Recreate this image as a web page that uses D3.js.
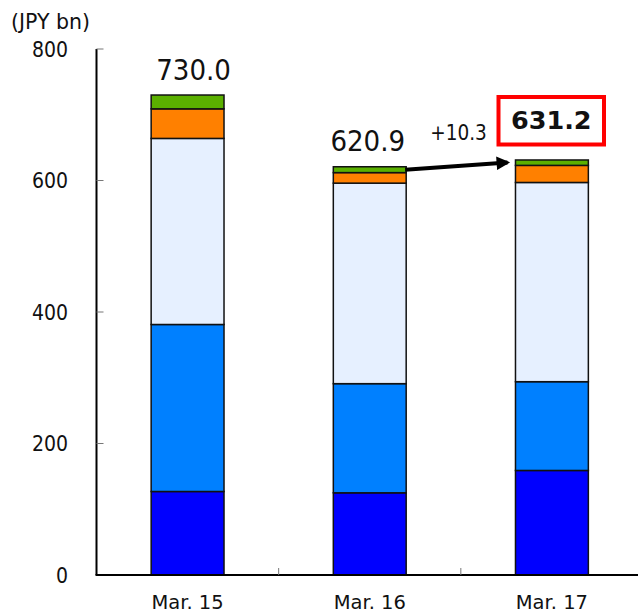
<!DOCTYPE html>
<html>
<head>
<meta charset="utf-8">
<script src="https://cdn.jsdelivr.net/npm/d3@7"></script>
<style>
  html, body { margin: 0; padding: 0; background: #fff; }
  svg { display: block; font-family: "DejaVu Sans Condensed", "DejaVu Sans", sans-serif; }
  .wide { font-family: "DejaVu Sans", sans-serif; }
  .bold { font-family: "DejaVu Sans", sans-serif; font-weight: bold; }
</style>
</head>
<body>
<svg id="chart" width="638" height="614"></svg>
<script>
// Balance by period (JPY bn), stacked bottom to top
const categories = ["Mar. 15", "Mar. 16", "Mar. 17"];
const seriesKeys = ["s1", "s2", "s3", "s4", "s5"];
const s1 = [127, 125, 159];
const s2 = [254, 166, 135];
const s3 = [283, 305, 303];
const s4 = [45, 16, 26];
const s5 = [21, 8.9, 8.2];
const totals = [730.0, 620.9, 631.2];
const changeLabel = "+10.3";
const yTicks = [0, 200, 400, 600, 800];
const colors = ["#0000ff", "#0080ff", "#e6f0ff", "#ff8000", "#5bb000"];

const rows = categories.map((c, i) => ({
  cat: c, s1: s1[i], s2: s2[i], s3: s3[i], s4: s4[i], s5: s5[i]
}));

const svg = d3.select("#chart");
const plotLeft = 96.5, plotRight = 638, plotTop = 49, plotBottom = 575;

const x = d3.scaleBand().domain(categories).range([plotLeft, plotRight + 5]).padding(0);
const y = d3.scaleLinear().domain([0, 800]).range([plotBottom, plotTop]);
const barW = x.bandwidth() * 0.4;

const stack = d3.stack().keys(seriesKeys)(rows);

// stacked bars
svg.append("g").selectAll("g")
  .data(stack)
  .join("g")
  .attr("fill", (d, i) => colors[i])
  .selectAll("rect")
  .data(d => d)
  .join("rect")
  .attr("x", d => x(d.data.cat) + x.bandwidth() / 2 - barW / 2)
  .attr("y", d => y(d[1]))
  .attr("width", barW)
  .attr("height", d => y(d[0]) - y(d[1]))
  .attr("stroke", "#111")
  .attr("stroke-width", 1.5);

// y axis
const yAxis = svg.append("g");
yAxis.append("line")
  .attr("x1", plotLeft).attr("x2", plotLeft).attr("y1", y(800)).attr("y2", plotBottom)
  .attr("stroke", "#000").attr("stroke-width", 2);
yAxis.selectAll("line.tick").data(yTicks).join("line")
  .attr("class", "tick")
  .attr("x1", plotLeft).attr("x2", plotLeft + 7)
  .attr("y1", d => y(d)).attr("y2", d => y(d))
  .attr("stroke", "#777").attr("stroke-width", 1);
yAxis.selectAll("text").data(yTicks).join("text")
  .attr("x", 68).attr("y", d => y(d)).attr("dy", "0.36em")
  .attr("text-anchor", "end").attr("font-size", 21).attr("fill", "#111")
  .text(d => d);

svg.append("text").attr("class", "wide").attr("x", 11).attr("y", 29)
  .attr("font-size", 20.5).attr("fill", "#111").text("(JPY bn)");

// x axis
svg.append("line")
  .attr("x1", plotLeft - 1).attr("x2", plotRight).attr("y1", plotBottom).attr("y2", plotBottom)
  .attr("stroke", "#000").attr("stroke-width", 2);
svg.selectAll("line.xtick").data(categories.slice(1)).join("line")
  .attr("class", "xtick")
  .attr("x1", d => x(d)).attr("x2", d => x(d))
  .attr("y1", plotBottom).attr("y2", plotBottom - 7)
  .attr("stroke", "#777").attr("stroke-width", 1);
svg.selectAll("text.xlab").data(categories).join("text")
  .attr("class", "xlab wide")
  .attr("x", d => x(d) + x.bandwidth() / 2).attr("y", 609)
  .attr("text-anchor", "middle").attr("font-size", 19.5).attr("fill", "#111")
  .text(d => d);

// total labels
const cx = i => x(categories[i]) + x.bandwidth() / 2;
const totalDx = [6, -2];
[0, 1].forEach(i => {
  svg.append("text")
    .attr("x", cx(i) + totalDx[i]).attr("y", y(totals[i]) - 15.5)
    .attr("text-anchor", "middle").attr("font-size", 29).attr("fill", "#111")
    .text(totals[i].toFixed(1));
});

// highlighted latest total
const boxX = 498.5, boxY = 97, boxW = 105.5, boxH = 47.5;
svg.append("rect")
  .attr("x", boxX).attr("y", boxY).attr("width", boxW).attr("height", boxH)
  .attr("fill", "#fff").attr("stroke", "#ff0000").attr("stroke-width", 4);
svg.append("text")
  .attr("class", "bold")
  .attr("x", boxX + boxW / 2).attr("y", 128.5)
  .attr("text-anchor", "middle").attr("font-size", 25.5)
  .attr("fill", "#111").text(totals[2].toFixed(1));

// change arrow
svg.append("defs").append("marker")
  .attr("id", "arrowHead").attr("viewBox", "0 0 10 10")
  .attr("refX", 8).attr("refY", 5)
  .attr("markerWidth", 3.6).attr("markerHeight", 3.4)
  .attr("orient", "auto")
  .append("path").attr("d", "M0,0 L10,5 L0,10 z").attr("fill", "#000");
svg.append("line")
  .attr("x1", cx(1) + barW / 2 - 1).attr("y1", y(totals[1]) + 3)
  .attr("x2", cx(2) - barW / 2 - 8).attr("y2", y(totals[2]) + 2.5)
  .attr("stroke", "#000").attr("stroke-width", 4)
  .attr("marker-end", "url(#arrowHead)");
svg.append("text")
  .attr("x", 458.5).attr("y", 140)
  .attr("text-anchor", "middle").attr("font-size", 20.5).attr("fill", "#111")
  .text(changeLabel);
</script>
</body>
</html>
